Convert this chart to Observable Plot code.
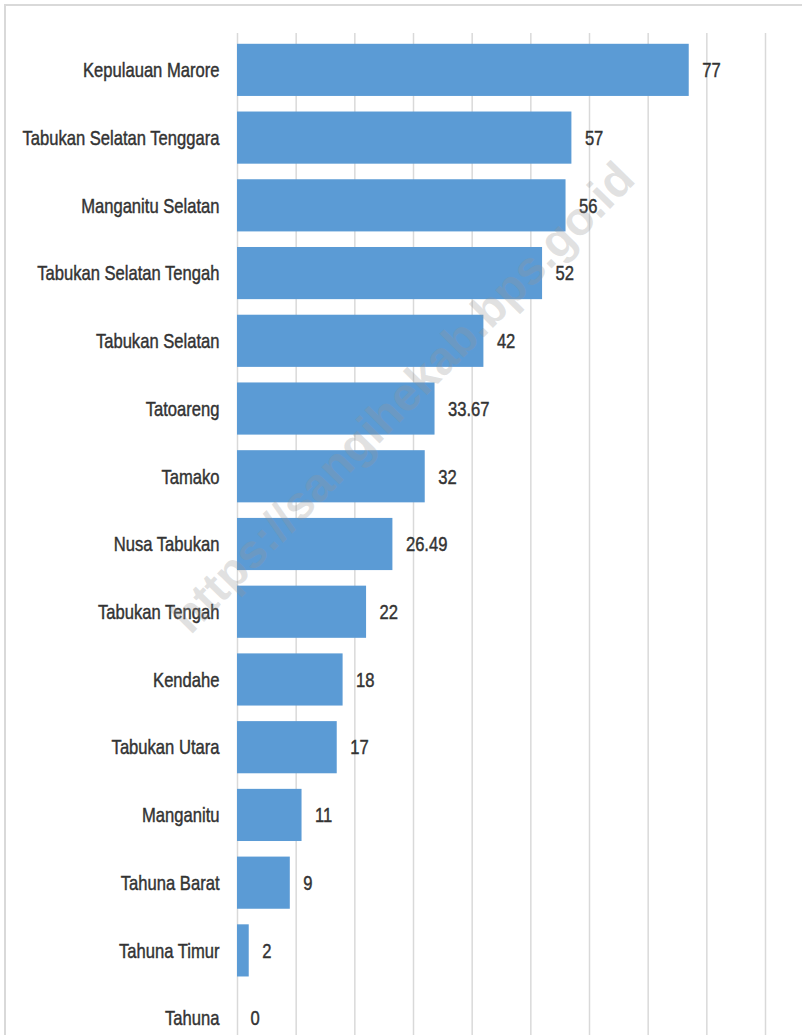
<!DOCTYPE html>
<html>
<head>
<meta charset="utf-8">
<script src="https://cdn.jsdelivr.net/npm/d3@7"></script>
<script src="https://cdn.jsdelivr.net/npm/@observablehq/plot@0.6"></script>
<style>
  html, body { margin: 0; padding: 0; background: #fff; overflow: hidden; width: 802px; height: 1035px; }
  #frame { position: absolute; left: 4px; top: 4px; width: 900px; height: 1200px; border: 2px solid #d9d9d9; box-sizing: border-box; }
  #chart { position: absolute; left: 0; top: 0; }
  #chart svg text { stroke: #333; stroke-width: 0.45px; }
  #wm { position: absolute; left: 402px; top: 397px; transform: translate(-50%, -50%) rotate(-45.5deg);
        font-family: "Liberation Sans", Arial, sans-serif; font-weight: bold; font-size: 47px;
        color: rgba(150,150,150,0.28); white-space: nowrap; pointer-events: none; }
</style>
</head>
<body>
<div id="frame"></div>
<div id="chart"></div>
<div id="wm">https://sangihekab.bps.go.id</div>
<script>
const categories = ["Kepulauan Marore","Tabukan Selatan Tenggara","Manganitu Selatan","Tabukan Selatan Tengah","Tabukan Selatan","Tatoareng","Tamako","Nusa Tabukan","Tabukan Tengah","Kendahe","Tabukan Utara","Manganitu","Tahuna Barat","Tahuna Timur","Tahuna"];
const values = [77, 57, 56, 52, 42, 33.67, 32, 26.49, 22, 18, 17, 11, 9, 2, 0];
const valueLabels = ["77","57","56","52","42","33.67","32","26.49","22","18","17","11","9","2","0"];
const gridTicks = [0,10,20,30,40,50,60,70,80,90];

const data = categories.map((c, i) => ({name: c, value: values[i], label: valueLabels[i]}));
const font = '"Liberation Sans", Arial, sans-serif';

const chart = Plot.plot({
  width: 802,
  height: 1060,
  marginLeft: 237,
  marginRight: 37,
  marginTop: 33,
  marginBottom: 8,
  insetTop: 3,
  style: {fontFamily: font, fontSize: "21px", color: "#333", background: "transparent"},
  x: {domain: [0, 90], axis: null},
  y: {domain: categories, paddingInner: 0.23, paddingOuter: 0.115, round: false, label: null},
  marks: [
    Plot.ruleX(gridTicks, {stroke: "#d9d9d9", strokeWidth: 1.5}),
    Plot.barX(data, {x: "value", y: "name", fill: "#5b9bd5"}),
    Plot.text(data, {x: "value", y: "name", text: "label", textAnchor: "start", dx: 13, fill: "#333", fontSize: 21}),
    Plot.axisY({tickSize: 0, tickPadding: 18, fontSize: 21, label: null, fill: "#333"})
  ]
});
document.getElementById("chart").appendChild(chart);
// condense glyphs horizontally to mimic the narrow typeface of the original
chart.querySelectorAll("text").forEach(t => {
  const len = t.getComputedTextLength();
  if (len > 0) {
    t.setAttribute("textLength", (len * 0.79).toFixed(2));
    t.setAttribute("lengthAdjust", "spacingAndGlyphs");
  }
});
</script>
</body>
</html>
